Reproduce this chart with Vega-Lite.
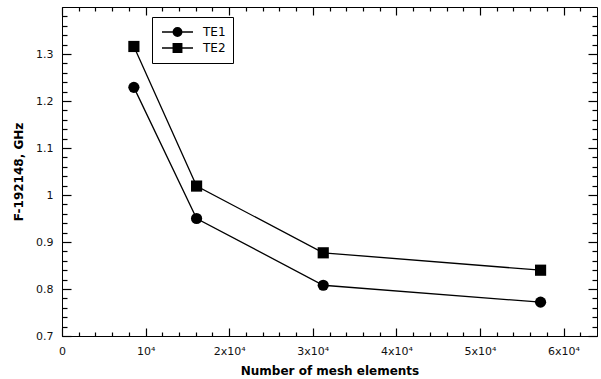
{
  "$schema": "https://vega.github.io/schema/vega-lite/v6.json",
  "width": 535,
  "height": 329,
  "autosize": "none",
  "padding": {"left": 62, "top": 7, "right": 4, "bottom": 43},
  "background": "white",
  "config": {
    "view": {"stroke": "black", "strokeWidth": 1},
    "font": "DejaVu Sans",
    "axis": {
      "domainColor": "black",
      "domainWidth": 1,
      "grid": false,
      "labelFont": "DejaVu Sans",
      "labelFontSize": 11,
      "labelColor": "#111",
      "titleFont": "DejaVu Sans",
      "titleFontSize": 12,
      "titleFontWeight": "bold",
      "titleColor": "black"
    }
  },
  "datasets": {
    "pts": [
      {"n": 8600, "f": 1.229, "s": "TE1"},
      {"n": 16100, "f": 0.950, "s": "TE1"},
      {"n": 31250, "f": 0.808, "s": "TE1"},
      {"n": 57250, "f": 0.772, "s": "TE1"},
      {"n": 8600, "f": 1.316, "s": "TE2"},
      {"n": 16100, "f": 1.019, "s": "TE2"},
      {"n": 31250, "f": 0.877, "s": "TE2"},
      {"n": 57250, "f": 0.840, "s": "TE2"}
    ]
  },
  "data": {"name": "pts"},
  "resolve": {
    "axis": {"x": "independent", "y": "independent"},
    "scale": {"shape": "independent"},
    "legend": {"shape": "independent"}
  },
  "layer": [
    {
      "mark": {"type": "line", "color": "black", "strokeWidth": 1.3},
      "encoding": {
        "x": {
          "field": "n", "type": "quantitative",
          "scale": {"domain": [0, 64000], "nice": false, "zero": false},
          "axis": {
            "orient": "bottom",
            "title": "Number of mesh elements",
            "titlePadding": 9,
            "values": [0, 10000, 20000, 30000, 40000, 50000, 60000],
            "ticks": true, "tickSize": -8, "tickColor": "black", "tickWidth": 1.2,
            "labelPadding": 17,
            "labelFlush": false,
            "labelOverlap": false,
            "labelExpr": "datum.value === 0 ? '0' : (datum.value === 10000 ? '10⁴' : (datum.value / 10000) + 'x10⁴')"
          }
        },
        "y": {
          "field": "f", "type": "quantitative",
          "scale": {"domain": [0.7, 1.4], "nice": false, "zero": false},
          "axis": {
            "orient": "left",
            "title": "F-192148, GHz",
            "titlePadding": 10,
            "values": [0.7, 0.8, 0.9, 1.0, 1.1, 1.2, 1.3],
            "ticks": true, "tickSize": -9, "tickColor": "black", "tickWidth": 1.2,
            "labelPadding": 18,
            "labelFlush": false,
            "labelOverlap": false,
            "format": ".1~f"
          }
        },
        "detail": {"field": "s"}
      }
    },
    {
      "mark": {"type": "point", "filled": true, "color": "black", "opacity": 1, "size": 125},
      "encoding": {
        "x": {
          "field": "n", "type": "quantitative",
          "axis": {
            "orient": "top", "title": null, "labels": false, "domain": false,
            "values": [0, 10000, 20000, 30000, 40000, 50000, 60000],
            "ticks": true, "tickSize": -8, "tickColor": "black", "tickWidth": 1.2
          }
        },
        "y": {
          "field": "f", "type": "quantitative",
          "axis": {
            "orient": "right", "title": null, "labels": false, "domain": false,
            "values": [0.7, 0.8, 0.9, 1.0, 1.1, 1.2, 1.3],
            "ticks": true, "tickSize": -9, "tickColor": "black", "tickWidth": 1.2
          }
        },
        "shape": {
          "field": "s", "type": "nominal",
          "scale": {"domain": ["TE1", "TE2"], "range": ["circle", "square"]},
          "legend": null
        }
      }
    },
    {
      "mark": {"type": "point", "filled": false, "stroke": "black", "strokeWidth": 1.5, "opacity": 0, "size": 10},
      "encoding": {
        "x": {
          "field": "n", "type": "quantitative",
          "axis": {
            "orient": "bottom", "title": null, "labels": false, "domain": false,
            "values": [2000,4000,6000,8000,12000,14000,16000,18000,22000,24000,26000,28000,32000,34000,36000,38000,42000,44000,46000,48000,52000,54000,56000,58000,62000],
            "ticks": true, "tickSize": -4, "tickColor": "black", "tickWidth": 1.2
          }
        },
        "y": {
          "field": "f", "type": "quantitative",
          "axis": {
            "orient": "left", "title": null, "labels": false, "domain": false,
            "values": [0.72,0.74,0.76,0.78,0.82,0.84,0.86,0.88,0.92,0.94,0.96,0.98,1.02,1.04,1.06,1.08,1.12,1.14,1.16,1.18,1.22,1.24,1.26,1.28,1.32,1.34,1.36,1.38],
            "ticks": true, "tickSize": -5, "tickColor": "black", "tickWidth": 1.2
          }
        },
        "shape": {
          "field": "s", "type": "nominal",
          "scale": {
            "domain": ["TE1", "TE2"],
            "range": [
              "M-0.714,0H3.714M2.1,0A0.6,0.6 0 1,1 0.9,0A0.6,0.6 0 1,1 2.1,0M1.94,0A0.44,0.44 0 1,1 1.06,0A0.44,0.44 0 1,1 1.94,0M1.78,0A0.28,0.28 0 1,1 1.22,0A0.28,0.28 0 1,1 1.78,0M1.62,0A0.12,0.12 0 1,1 1.38,0A0.12,0.12 0 1,1 1.62,0",
              "M-0.714,0H3.714M0.9,-0.6H2.1V0.6H0.9ZM1.06,-0.44H1.94V0.44H1.06ZM1.22,-0.28H1.78V0.28H1.22ZM1.38,-0.12H1.62V0.12H1.38Z"
            ]
          },
          "legend": {
            "orient": "none",
            "legendX": 90,
            "legendY": 10,
            "title": null,
            "padding": 7,
            "rowPadding": 0,
            "strokeColor": "black",
            "fillColor": "white",
            "labelFont": "DejaVu Sans",
            "labelFontSize": 12,
            "labelColor": "black",
            "labelOffset": 28,
            "symbolSize": 196,
            "symbolOpacity": 1
          }
        }
      }
    },
    {
      "mark": {"type": "point", "filled": true, "color": "black", "opacity": 0, "size": 10},
      "encoding": {
        "x": {
          "field": "n", "type": "quantitative",
          "axis": {
            "orient": "top", "title": null, "labels": false, "domain": false,
            "values": [2000,4000,6000,8000,12000,14000,16000,18000,22000,24000,26000,28000,32000,34000,36000,38000,42000,44000,46000,48000,52000,54000,56000,58000,62000],
            "ticks": true, "tickSize": -4, "tickColor": "black", "tickWidth": 1.2
          }
        },
        "y": {
          "field": "f", "type": "quantitative",
          "axis": {
            "orient": "right", "title": null, "labels": false, "domain": false,
            "values": [0.72,0.74,0.76,0.78,0.82,0.84,0.86,0.88,0.92,0.94,0.96,0.98,1.02,1.04,1.06,1.08,1.12,1.14,1.16,1.18,1.22,1.24,1.26,1.28,1.32,1.34,1.36,1.38],
            "ticks": true, "tickSize": -5, "tickColor": "black", "tickWidth": 1.2
          }
        }
      }
    }
  ]
}
